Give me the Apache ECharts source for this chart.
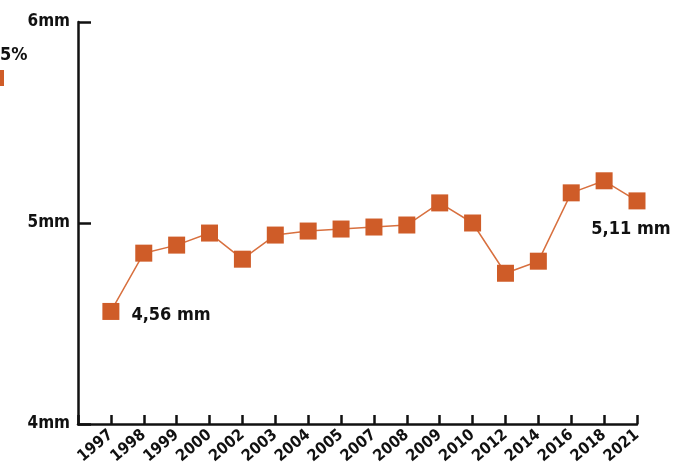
<!DOCTYPE html>
<html>
<head>
<meta charset="utf-8">
<script src="https://cdn.jsdelivr.net/npm/echarts@6/dist/echarts.min.js"></script>
<style>
  html, body { margin: 0; padding: 0; background: #fff; }
  #chart { width: 690px; height: 471px; }
</style>
</head>
<body>
<div id="chart"></div>
<script>
  const years = ['1997', '1998', '1999', '2000', '2002', '2003', '2004', '2005',
    '2007', '2008', '2009', '2010', '2012', '2014', '2016', '2018', '2021'];
  const values = [4.56, 4.85, 4.89, 4.95, 4.82, 4.94, 4.96, 4.97,
    4.98, 4.99, 5.10, 5.00, 4.75, 4.81, 5.15, 5.21, 5.11];
  const yTicks = [4, 5, 6];

  const FONT = '"DejaVu Sans Condensed", "Liberation Sans Narrow", sans-serif';
  const ORANGE = '#cf5c28';

  // leading blank slot so the first year sits one step right of the y axis
  const cats = [''].concat(years);
  const data = ['-'].concat(values.map((v, i) => {
    if (i === 0) {
      return { value: v, label: { show: true, position: 'right', distance: 12, offset: [0, 4], formatter: '4,56 mm' } };
    }
    if (i === values.length - 1) {
      return { value: v, label: { show: true, position: 'bottom', distance: 10, offset: [-6, 1], formatter: '5,11 mm' } };
    }
    return v;
  }));

  const myChart = echarts.init(document.getElementById('chart'));
  const option = {
    animation: false,
    grid: { left: 78, right: 53, top: 22, bottom: 47 },
    xAxis: {
      type: 'category',
      data: cats,
      boundaryGap: false,
      axisLine: { lineStyle: { color: '#111', width: 2.5 } },
      axisTick: { inside: true, length: 9, lineStyle: { color: '#111', width: 2.5 } },
      axisLabel: {
        rotate: 40,
        margin: 9,
        interval: 0,
        color: '#111',
        fontFamily: FONT,
        fontWeight: 'bold',
        fontSize: 16
      }
    },
    yAxis: {
      type: 'value',
      min: yTicks[0],
      max: yTicks[yTicks.length - 1],
      interval: 1,
      splitLine: { show: false },
      axisLine: { show: true, lineStyle: { color: '#111', width: 2.5 } },
      axisTick: { show: true, inside: true, length: 13, lineStyle: { color: '#111', width: 2.5 } },
      axisLabel: {
        margin: 8,
        color: '#111',
        fontFamily: FONT,
        fontWeight: 'bold',
        fontSize: 17,
        formatter: v => v + 'mm'
      }
    },
    series: [{
      type: 'line',
      data: data,
      symbol: 'rect',
      symbolSize: 17,
      itemStyle: { color: ORANGE },
      lineStyle: { color: '#d8703f', width: 1.5 },
      label: {
        color: '#111',
        fontFamily: FONT,
        fontWeight: 'bold',
        fontSize: 18
      }
    }],
    graphic: [
      {
        type: 'text', left: 0, top: 46,
        style: { text: '5%', fill: '#111', font: 'bold 18px ' + FONT }
      },
      {
        type: 'rect', left: -10, top: 70,
        shape: { width: 14, height: 16 },
        style: { fill: ORANGE }
      }
    ]
  };
  option && myChart.setOption(option);
</script>
</body>
</html>
